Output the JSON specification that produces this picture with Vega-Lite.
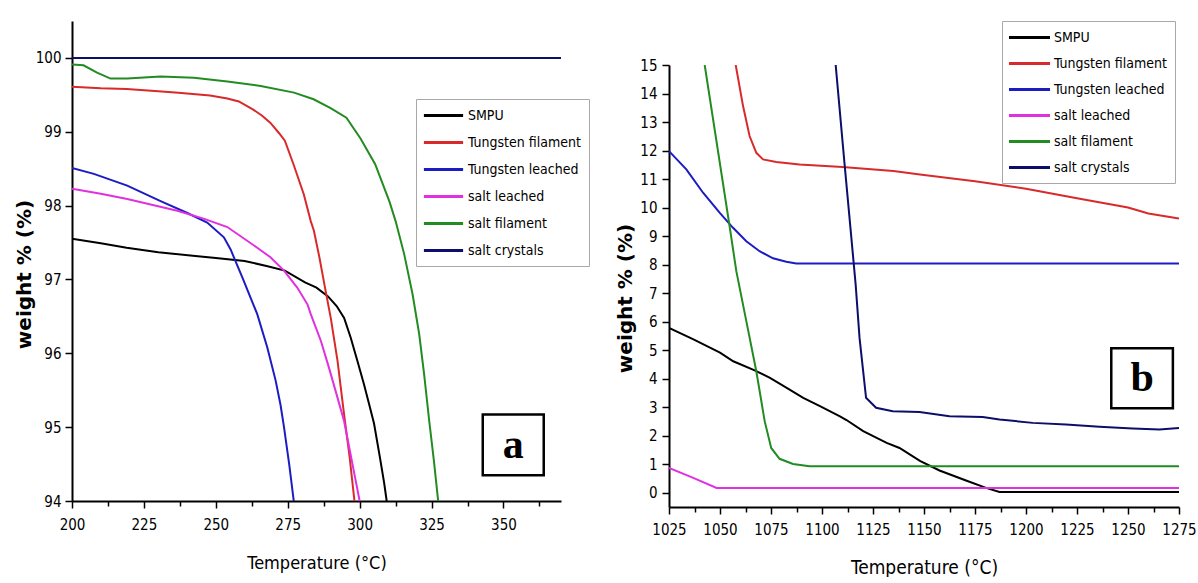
{
  "$schema": "https://vega.github.io/schema/vega-lite/v6.json",
  "background": "white",
  "padding": {"left": 14, "top": 20, "right": 0, "bottom": 0},
  "spacing": 25,
  "resolve": {"scale": {"color": "independent"}, "legend": {"color": "independent"}},
  "config": {
    "view": {"stroke": null},
    "axis": {
      "grid": false,
      "domainColor": "black",
      "domainWidth": 2,
      "tickColor": "black",
      "tickWidth": 1.5,
      "labelFont": "Liberation Sans Narrow, DejaVu Sans Condensed, sans-serif",
      "labelFontSize": 15,
      "labelColor": "black",
      "labelFlush": false,
      "labelOverlap": false,
      "titleColor": "black"
    },
    "legend": {
      "title": null,
      "orient": "none",
      "labelFont": "Liberation Sans Narrow, DejaVu Sans Condensed, sans-serif",
      "labelFontSize": 14,
      "labelColor": "black",
      "strokeColor": "#a8a8a8",
      "fillColor": "white",
      "padding": 8,
      "symbolSize": 196,
      "symbolStrokeWidth": 3,
      "symbolOffset": 11,
      "labelOffset": 16
    }
  },
  "datasets": {
    "a": [
      {"series": "SMPU", "temp": 200, "weight": 97.55},
      {"series": "SMPU", "temp": 210, "weight": 97.49},
      {"series": "SMPU", "temp": 219, "weight": 97.43},
      {"series": "SMPU", "temp": 230, "weight": 97.37},
      {"series": "SMPU", "temp": 242, "weight": 97.32},
      {"series": "SMPU", "temp": 250, "weight": 97.29},
      {"series": "SMPU", "temp": 260, "weight": 97.25},
      {"series": "SMPU", "temp": 268, "weight": 97.18},
      {"series": "SMPU", "temp": 274, "weight": 97.12},
      {"series": "SMPU", "temp": 281, "weight": 96.96},
      {"series": "SMPU", "temp": 285, "weight": 96.89},
      {"series": "SMPU", "temp": 289, "weight": 96.77},
      {"series": "SMPU", "temp": 292, "weight": 96.64},
      {"series": "SMPU", "temp": 294.6, "weight": 96.48},
      {"series": "SMPU", "temp": 296.9, "weight": 96.21},
      {"series": "SMPU", "temp": 299.2, "weight": 95.9},
      {"series": "SMPU", "temp": 301.5, "weight": 95.58},
      {"series": "SMPU", "temp": 303.3, "weight": 95.31},
      {"series": "SMPU", "temp": 305, "weight": 95.05},
      {"series": "SMPU", "temp": 307, "weight": 94.6},
      {"series": "SMPU", "temp": 308.5, "weight": 94.25},
      {"series": "SMPU", "temp": 309.4, "weight": 94.0},
      {"series": "Tungsten filament", "temp": 200, "weight": 99.61},
      {"series": "Tungsten filament", "temp": 210, "weight": 99.59},
      {"series": "Tungsten filament", "temp": 219, "weight": 99.58},
      {"series": "Tungsten filament", "temp": 230, "weight": 99.55},
      {"series": "Tungsten filament", "temp": 237, "weight": 99.53},
      {"series": "Tungsten filament", "temp": 248, "weight": 99.49},
      {"series": "Tungsten filament", "temp": 254, "weight": 99.45},
      {"series": "Tungsten filament", "temp": 258, "weight": 99.41},
      {"series": "Tungsten filament", "temp": 263, "weight": 99.3},
      {"series": "Tungsten filament", "temp": 266, "weight": 99.22},
      {"series": "Tungsten filament", "temp": 269, "weight": 99.12},
      {"series": "Tungsten filament", "temp": 272, "weight": 98.98},
      {"series": "Tungsten filament", "temp": 274, "weight": 98.88},
      {"series": "Tungsten filament", "temp": 277, "weight": 98.56},
      {"series": "Tungsten filament", "temp": 280.6, "weight": 98.15},
      {"series": "Tungsten filament", "temp": 283, "weight": 97.79},
      {"series": "Tungsten filament", "temp": 284.1, "weight": 97.66},
      {"series": "Tungsten filament", "temp": 286, "weight": 97.3},
      {"series": "Tungsten filament", "temp": 288, "weight": 96.88},
      {"series": "Tungsten filament", "temp": 290, "weight": 96.47},
      {"series": "Tungsten filament", "temp": 292.3, "weight": 95.9},
      {"series": "Tungsten filament", "temp": 294.5, "weight": 95.2},
      {"series": "Tungsten filament", "temp": 296.5, "weight": 94.6},
      {"series": "Tungsten filament", "temp": 298.2, "weight": 94.0},
      {"series": "Tungsten leached", "temp": 200, "weight": 98.51},
      {"series": "Tungsten leached", "temp": 207.6, "weight": 98.43},
      {"series": "Tungsten leached", "temp": 219.2, "weight": 98.27},
      {"series": "Tungsten leached", "temp": 230.8, "weight": 98.06},
      {"series": "Tungsten leached", "temp": 240.1, "weight": 97.9},
      {"series": "Tungsten leached", "temp": 247, "weight": 97.77},
      {"series": "Tungsten leached", "temp": 252.8, "weight": 97.57},
      {"series": "Tungsten leached", "temp": 255.1, "weight": 97.41},
      {"series": "Tungsten leached", "temp": 259.5, "weight": 97.0},
      {"series": "Tungsten leached", "temp": 262.1, "weight": 96.75},
      {"series": "Tungsten leached", "temp": 264.4, "weight": 96.53},
      {"series": "Tungsten leached", "temp": 267.9, "weight": 96.08},
      {"series": "Tungsten leached", "temp": 270.8, "weight": 95.63},
      {"series": "Tungsten leached", "temp": 272.5, "weight": 95.3},
      {"series": "Tungsten leached", "temp": 273.7, "weight": 95.0},
      {"series": "Tungsten leached", "temp": 275.5, "weight": 94.5},
      {"series": "Tungsten leached", "temp": 277.1, "weight": 94.0},
      {"series": "salt leached", "temp": 200, "weight": 98.23},
      {"series": "salt leached", "temp": 210, "weight": 98.16},
      {"series": "salt leached", "temp": 219.2, "weight": 98.09},
      {"series": "salt leached", "temp": 236.6, "weight": 97.93},
      {"series": "salt leached", "temp": 246, "weight": 97.82},
      {"series": "salt leached", "temp": 254, "weight": 97.71},
      {"series": "salt leached", "temp": 264.4, "weight": 97.43},
      {"series": "salt leached", "temp": 269, "weight": 97.3},
      {"series": "salt leached", "temp": 273.7, "weight": 97.12},
      {"series": "salt leached", "temp": 278.3, "weight": 96.89},
      {"series": "salt leached", "temp": 281.9, "weight": 96.66},
      {"series": "salt leached", "temp": 283, "weight": 96.53},
      {"series": "salt leached", "temp": 286.5, "weight": 96.17},
      {"series": "salt leached", "temp": 289.3, "weight": 95.81},
      {"series": "salt leached", "temp": 292.3, "weight": 95.4},
      {"series": "salt leached", "temp": 294.6, "weight": 95.08},
      {"series": "salt leached", "temp": 296.5, "weight": 94.7},
      {"series": "salt leached", "temp": 298.5, "weight": 94.3},
      {"series": "salt leached", "temp": 300, "weight": 94.0},
      {"series": "salt filament", "temp": 200, "weight": 99.91},
      {"series": "salt filament", "temp": 204, "weight": 99.9},
      {"series": "salt filament", "temp": 208.7, "weight": 99.8},
      {"series": "salt filament", "temp": 213.4, "weight": 99.72},
      {"series": "salt filament", "temp": 219.2, "weight": 99.72},
      {"series": "salt filament", "temp": 230.8, "weight": 99.75},
      {"series": "salt filament", "temp": 242.4, "weight": 99.73},
      {"series": "salt filament", "temp": 254, "weight": 99.68},
      {"series": "salt filament", "temp": 265.6, "weight": 99.62},
      {"series": "salt filament", "temp": 277.2, "weight": 99.53},
      {"series": "salt filament", "temp": 284, "weight": 99.44},
      {"series": "salt filament", "temp": 289.9, "weight": 99.32},
      {"series": "salt filament", "temp": 295.4, "weight": 99.19},
      {"series": "salt filament", "temp": 300.3, "weight": 98.91},
      {"series": "salt filament", "temp": 305.4, "weight": 98.56},
      {"series": "salt filament", "temp": 310.4, "weight": 98.05},
      {"series": "salt filament", "temp": 312.5, "weight": 97.79},
      {"series": "salt filament", "temp": 315.5, "weight": 97.34},
      {"series": "salt filament", "temp": 318.4, "weight": 96.8},
      {"series": "salt filament", "temp": 320.7, "weight": 96.26},
      {"series": "salt filament", "temp": 322.4, "weight": 95.72},
      {"series": "salt filament", "temp": 324.2, "weight": 95.08},
      {"series": "salt filament", "temp": 325.8, "weight": 94.55},
      {"series": "salt filament", "temp": 327.3, "weight": 94.0},
      {"series": "salt crystals", "temp": 200, "weight": 100.0},
      {"series": "salt crystals", "temp": 370, "weight": 100.0}
    ],
    "b": [
      {"series": "SMPU", "temp": 1025, "weight": 5.78},
      {"series": "SMPU", "temp": 1037, "weight": 5.38},
      {"series": "SMPU", "temp": 1050, "weight": 4.91},
      {"series": "SMPU", "temp": 1056.5, "weight": 4.61},
      {"series": "SMPU", "temp": 1067, "weight": 4.29},
      {"series": "SMPU", "temp": 1074.5, "weight": 4.03},
      {"series": "SMPU", "temp": 1082.7, "weight": 3.68},
      {"series": "SMPU", "temp": 1090.8, "weight": 3.33},
      {"series": "SMPU", "temp": 1099, "weight": 3.04},
      {"series": "SMPU", "temp": 1108.8, "weight": 2.68},
      {"series": "SMPU", "temp": 1112, "weight": 2.55},
      {"series": "SMPU", "temp": 1120.2, "weight": 2.16},
      {"series": "SMPU", "temp": 1131.7, "weight": 1.75},
      {"series": "SMPU", "temp": 1138, "weight": 1.57},
      {"series": "SMPU", "temp": 1148, "weight": 1.12},
      {"series": "SMPU", "temp": 1157.6, "weight": 0.78},
      {"series": "SMPU", "temp": 1170.6, "weight": 0.43},
      {"series": "SMPU", "temp": 1180.4, "weight": 0.17},
      {"series": "SMPU", "temp": 1187, "weight": 0.03},
      {"series": "SMPU", "temp": 1275, "weight": 0.03},
      {"series": "Tungsten filament", "temp": 1057.7, "weight": 15},
      {"series": "Tungsten filament", "temp": 1061.3, "weight": 13.56},
      {"series": "Tungsten filament", "temp": 1064.5, "weight": 12.51},
      {"series": "Tungsten filament", "temp": 1067.8, "weight": 11.92},
      {"series": "Tungsten filament", "temp": 1071.1, "weight": 11.69},
      {"series": "Tungsten filament", "temp": 1077.6, "weight": 11.6},
      {"series": "Tungsten filament", "temp": 1089, "weight": 11.51},
      {"series": "Tungsten filament", "temp": 1110, "weight": 11.42},
      {"series": "Tungsten filament", "temp": 1135, "weight": 11.28},
      {"series": "Tungsten filament", "temp": 1148, "weight": 11.16},
      {"series": "Tungsten filament", "temp": 1175, "weight": 10.92},
      {"series": "Tungsten filament", "temp": 1200, "weight": 10.66},
      {"series": "Tungsten filament", "temp": 1225, "weight": 10.33},
      {"series": "Tungsten filament", "temp": 1250, "weight": 10.0},
      {"series": "Tungsten filament", "temp": 1260, "weight": 9.79},
      {"series": "Tungsten filament", "temp": 1275, "weight": 9.62},
      {"series": "Tungsten leached", "temp": 1025, "weight": 11.98},
      {"series": "Tungsten leached", "temp": 1033.5, "weight": 11.34},
      {"series": "Tungsten leached", "temp": 1041.7, "weight": 10.52},
      {"series": "Tungsten leached", "temp": 1049.8, "weight": 9.82},
      {"series": "Tungsten leached", "temp": 1056.4, "weight": 9.29},
      {"series": "Tungsten leached", "temp": 1062.9, "weight": 8.82},
      {"series": "Tungsten leached", "temp": 1069.4, "weight": 8.47},
      {"series": "Tungsten leached", "temp": 1076, "weight": 8.22},
      {"series": "Tungsten leached", "temp": 1082.5, "weight": 8.1},
      {"series": "Tungsten leached", "temp": 1087.4, "weight": 8.04},
      {"series": "Tungsten leached", "temp": 1275, "weight": 8.04},
      {"series": "salt leached", "temp": 1025, "weight": 0.87},
      {"series": "salt leached", "temp": 1036.9, "weight": 0.52},
      {"series": "salt leached", "temp": 1048.3, "weight": 0.17},
      {"series": "salt leached", "temp": 1275, "weight": 0.17},
      {"series": "salt filament", "temp": 1042.5, "weight": 15},
      {"series": "salt filament", "temp": 1054.7, "weight": 9.35},
      {"series": "salt filament", "temp": 1058, "weight": 7.77},
      {"series": "salt filament", "temp": 1062.9, "weight": 6.02},
      {"series": "salt filament", "temp": 1067.8, "weight": 4.26},
      {"series": "salt filament", "temp": 1071.9, "weight": 2.51},
      {"series": "salt filament", "temp": 1075.1, "weight": 1.57},
      {"series": "salt filament", "temp": 1079.2, "weight": 1.19},
      {"series": "salt filament", "temp": 1085.8, "weight": 1.01},
      {"series": "salt filament", "temp": 1093.9, "weight": 0.93},
      {"series": "salt filament", "temp": 1275, "weight": 0.93},
      {"series": "salt crystals", "temp": 1106.7, "weight": 15},
      {"series": "salt crystals", "temp": 1111.1, "weight": 11.5},
      {"series": "salt crystals", "temp": 1116.5, "weight": 7.3},
      {"series": "salt crystals", "temp": 1118.4, "weight": 5.43},
      {"series": "salt crystals", "temp": 1121.6, "weight": 3.33},
      {"series": "salt crystals", "temp": 1123.3, "weight": 3.21},
      {"series": "salt crystals", "temp": 1126.5, "weight": 2.98},
      {"series": "salt crystals", "temp": 1134.7, "weight": 2.86},
      {"series": "salt crystals", "temp": 1147.8, "weight": 2.83},
      {"series": "salt crystals", "temp": 1162.5, "weight": 2.68},
      {"series": "salt crystals", "temp": 1178.8, "weight": 2.66},
      {"series": "salt crystals", "temp": 1187, "weight": 2.57},
      {"series": "salt crystals", "temp": 1203.3, "weight": 2.45},
      {"series": "salt crystals", "temp": 1219.6, "weight": 2.39},
      {"series": "salt crystals", "temp": 1236, "weight": 2.31},
      {"series": "salt crystals", "temp": 1252.3, "weight": 2.25},
      {"series": "salt crystals", "temp": 1265.4, "weight": 2.22},
      {"series": "salt crystals", "temp": 1275, "weight": 2.27}
    ],
    "boxa": [{"label": "a", "temp": 342.8, "temp2": 364.0, "weight": 94.35, "weight2": 95.17, "tc": 353.4, "wc": 94.76}],
    "boxb": [{"label": "b", "temp": 1241.8, "temp2": 1272.0, "weight": 2.96, "weight2": 5.07, "tc": 1256.9, "wc": 4.01}]
  },
  "hconcat": [
    {
      "width": 489,
      "height": 480,
      "layer": [
        {
          "data": {"name": "a"},
          "mark": {"type": "line", "strokeWidth": 2, "clip": true},
          "encoding": {
            "x": {
              "field": "temp", "type": "quantitative",
              "scale": {"domain": [200, 370], "nice": false, "zero": false},
              "axis": {
                "title": "Temperature (°C)",
                "values": [200, 212.5, 225, 237.5, 250, 262.5, 275, 287.5, 300, 312.5, 325, 337.5, 350, 362.5],
                "tickCount": 100,
                "format": "d",
                "labelExpr": "abs(datum.value / 25 - round(datum.value / 25)) < 0.001 ? datum.label : ''",
                "labelOverlap": false,
                "labelFontSize": {"condition": {"test": "abs(datum.value / 25 - round(datum.value / 25)) < 0.001", "value": 15}, "value": 0},
                "tickSize": {"condition": {"test": "abs(datum.value / 25 - round(datum.value / 25)) < 0.001", "value": 7}, "value": 5},
                "labelPadding": 9,
                "titleFont": "Liberation Sans Narrow, DejaVu Sans Condensed, sans-serif",
                "titleFontSize": 18,
                "titleFontWeight": "normal",
                "titlePadding": 22
              }
            },
            "y": {
              "field": "weight", "type": "quantitative",
              "scale": {"domain": [94, 100.5], "nice": false, "zero": false},
              "axis": {
                "title": "weight % (%)",
                "values": [94, 94.5, 95, 95.5, 96, 96.5, 97, 97.5, 98, 98.5, 99, 99.5, 100, 100.5],
                "tickCount": 100,
                "format": "d",
                "labelExpr": "abs(datum.value - round(datum.value)) < 0.001 ? datum.label : ''",
                "labelOverlap": false,
                "labelFontSize": {"condition": {"test": "abs(datum.value - round(datum.value)) < 0.001", "value": 15}, "value": 0},
                "tickSize": {"condition": {"test": "abs(datum.value - round(datum.value)) < 0.001", "value": 7}, "value": 5},
                "labelPadding": 4,
                "titleFont": "DejaVu Sans",
                "titleFontSize": 20,
                "titleFontWeight": "bold",
                "titlePadding": 1,
                "titleY": 253
              }
            },
            "color": {
              "field": "series", "type": "nominal",
              "scale": {
                "domain": ["SMPU", "Tungsten filament", "Tungsten leached", "salt leached", "salt filament", "salt crystals"],
                "range": ["#000000", "#d82a2a", "#1c1cc4", "#e030e0", "#228b22", "#0d0d6b"]
              },
              "legend": {"legendX": 344, "legendY": 78, "rowPadding": 11, "symbolType": "M-2.8,0H2.8"}
            }
          }
        },
        {
          "data": {"name": "boxa"},
          "mark": {"type": "rect", "fill": "white", "stroke": "black", "strokeWidth": 2.5},
          "encoding": {
            "x": {"field": "temp", "type": "quantitative"},
            "x2": {"field": "temp2"},
            "y": {"field": "weight", "type": "quantitative"},
            "y2": {"field": "weight2"}
          }
        },
        {
          "data": {"name": "boxa"},
          "mark": {"type": "text", "font": "Liberation Serif", "fontWeight": "bold", "fontSize": 42, "baseline": "middle", "align": "center", "color": "black"},
          "encoding": {
            "x": {"field": "tc", "type": "quantitative"},
            "y": {"field": "wc", "type": "quantitative"},
            "text": {"field": "label"}
          }
        }
      ]
    },
    {
      "spacing": 20,
      "vconcat": [
        {
          "width": 510,
          "height": 17,
          "view": {"fill": "white", "stroke": null},
          "data": {"values": []},
          "mark": "point"
        },
        {
          "width": 510,
          "height": 442,
          "layer": [
            {
              "data": {"name": "b"},
              "mark": {"type": "line", "strokeWidth": 2, "clip": true},
              "encoding": {
                "x": {
                  "field": "temp", "type": "quantitative",
                  "scale": {"domain": [1025, 1275], "nice": false, "zero": false},
                  "axis": {
                    "title": "Temperature (°C)",
                    "values": [1025, 1037.5, 1050, 1062.5, 1075, 1087.5, 1100, 1112.5, 1125, 1137.5, 1150, 1162.5, 1175, 1187.5, 1200, 1212.5, 1225, 1237.5, 1250, 1262.5, 1275],
                    "tickCount": 100,
                    "format": "d",
                    "labelExpr": "abs(datum.value / 25 - round(datum.value / 25)) < 0.001 ? datum.label : ''",
                    "labelOverlap": false,
                    "labelFontSize": {"condition": {"test": "abs(datum.value / 25 - round(datum.value / 25)) < 0.001", "value": 15}, "value": 0},
                    "tickSize": {"condition": {"test": "abs(datum.value / 25 - round(datum.value / 25)) < 0.001", "value": 7}, "value": 5},
                    "labelPadding": 8,
                    "titleFont": "Liberation Sans Narrow, DejaVu Sans Condensed, sans-serif",
                    "titleFontSize": 19,
                    "titleFontWeight": "normal",
                    "titlePadding": 21
                  }
                },
                "y": {
                  "field": "weight", "type": "quantitative",
                  "scale": {"domain": [-0.5, 15], "nice": false, "zero": false},
                  "axis": {
                    "title": "weight % (%)",
                    "values": [0, 1, 2, 3, 4, 5, 6, 7, 8, 9, 10, 11, 12, 13, 14, 15],
                    "tickCount": 100,
                    "format": "d",
                    "labelOverlap": false,
                    "tickSize": 7,
                    "labelPadding": 5,
                    "titleFont": "DejaVu Sans",
                    "titleFontSize": 20,
                    "titleFontWeight": "bold",
                    "titlePadding": 4,
                    "titleY": 233
                  }
                },
                "color": {
                  "field": "series", "type": "nominal",
                  "scale": {
                    "domain": ["SMPU", "Tungsten filament", "Tungsten leached", "salt leached", "salt filament", "salt crystals"],
                    "range": ["#000000", "#d82a2a", "#1c1cc4", "#e030e0", "#228b22", "#0d0d6b"]
                  },
                  "legend": {"legendX": 333, "legendY": 0, "rowPadding": 10, "symbolType": "M-2.93,0H2.93"}
                }
              }
            },
            {
              "data": {"name": "boxb"},
              "mark": {"type": "rect", "fill": "white", "stroke": "black", "strokeWidth": 2.5},
              "encoding": {
                "x": {"field": "temp", "type": "quantitative"},
                "x2": {"field": "temp2"},
                "y": {"field": "weight", "type": "quantitative"},
                "y2": {"field": "weight2"}
              }
            },
            {
              "data": {"name": "boxb"},
              "mark": {"type": "text", "font": "Liberation Serif", "fontWeight": "bold", "fontSize": 42, "baseline": "middle", "align": "center", "color": "black"},
              "encoding": {
                "x": {"field": "tc", "type": "quantitative"},
                "y": {"field": "wc", "type": "quantitative"},
                "text": {"field": "label"}
              }
            }
          ]
        }
      ]
    }
  ]
}
